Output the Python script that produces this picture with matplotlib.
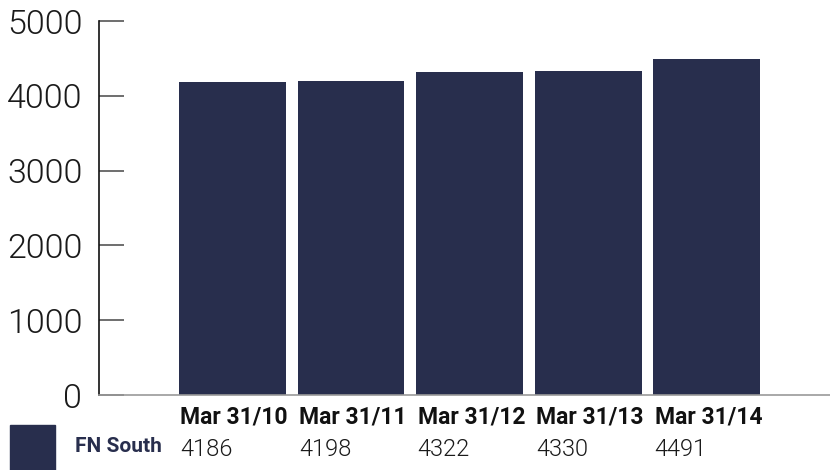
import matplotlib
matplotlib.use("Agg")
import matplotlib.pyplot as plt
import matplotlib.transforms as mtransforms
from matplotlib.patches import Rectangle

categories = ["Mar 31/10", "Mar 31/11", "Mar 31/12", "Mar 31/13", "Mar 31/14"]
values = [4186, 4198, 4322, 4330, 4491]
series_name = "FN South"
yticks = [0, 1000, 2000, 3000, 4000, 5000]

navy = "#282e4d"

fig = plt.figure(figsize=(8.3, 4.7), dpi=100)
ax = fig.add_axes([99/830, 1-395/470, 1-99/830, (395-21)/470])
x = list(range(len(categories)))
ax.bar(x, values, width=0.9, color=navy, zorder=2)
ax.set_xlim(-1.127, 5.04)
ax.set_ylim(0, 5000)
ax.set_yticks(yticks)
ax.set_yticklabels([str(v) for v in yticks], fontsize=24.5, family="Roboto",
                   fontweight=300, color="#1a1a1a")
ax.set_xticks([])
ax.tick_params(axis="y", direction="in", length=18, width=1.2, color="#555555", pad=12)
for s in ["top", "right"]:
    ax.spines[s].set_visible(False)
ax.spines["left"].set_color("#111111")
ax.spines["left"].set_linewidth(1.2)
ax.spines["bottom"].set_color("#999999")
ax.spines["bottom"].set_linewidth(1.2)

tr = mtransforms.blended_transform_factory(ax.transData, fig.transFigure)
for i, (c, v) in enumerate(zip(categories, values)):
    ax.text(i - 0.44, 1-417/470, c, transform=tr, ha="left", va="center",
            fontsize=16.5, fontweight="bold", family="Roboto", color="#111111", clip_on=False)
    ax.text(i - 0.44, 1-449/470, str(v), transform=tr, ha="left", va="center",
            fontsize=17, family="Roboto", fontweight=300,
            color="#1a1a1a", clip_on=False)

fig.patches.append(Rectangle((10/830, 0), 45/830, 45/470, transform=fig.transFigure,
                             color=navy, zorder=3))
fig.text(75/830, 1-447/470, series_name, ha="left", va="center", fontsize=15,
         fontweight="bold", family="Roboto", color=navy)

fig.savefig("out.png", dpi=100)
